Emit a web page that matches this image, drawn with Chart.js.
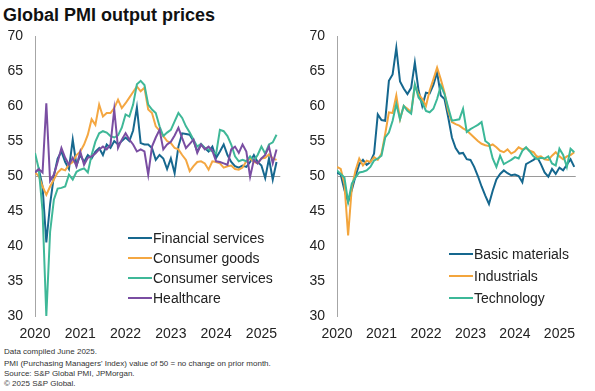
<!DOCTYPE html>
<html>
<head>
<meta charset="utf-8">
<script src="https://cdn.jsdelivr.net/npm/chart.js@4.4.1/dist/chart.umd.min.js"></script>
<style>
  html, body { margin:0; padding:0; background:#fff; }
  body { width:595px; height:391px; position:relative; overflow:hidden; font-family:'Liberation Sans', Arial, sans-serif; color:#222; }
  #title { position:absolute; left:3px; top:5px; font-size:18px; font-weight:bold; color:#111; white-space:nowrap; }
  .cv { position:absolute; }
  .leg { position:absolute; font-size:14px; color:#222; white-space:nowrap; }
  .leg .row { position:absolute; left:0; height:20px; display:flex; align-items:center; }
  .leg .ln { width:24px; height:2px; margin-right:1px; }
  .foot { position:absolute; left:4px; font-size:8px; color:#333; white-space:nowrap; }
</style>
</head>
<body>
<div id="title">Global PMI output prices</div>
<div class="cv" style="left:0px;top:0px;width:287px;height:341px;"><canvas id="c1"></canvas></div>
<div class="cv" style="left:300px;top:0px;width:285px;height:341px;"><canvas id="c2"></canvas></div>
<div class="leg" id="leg1" style="left:128px;top:0px;"></div>
<div class="leg" id="leg2" style="left:449px;top:0px;"></div>
<div class="foot" style="top:347px;">Data compiled June 2025.</div>
<div class="foot" style="top:358.5px;">PMI (Purchasing Managers' Index) value of 50 = no change on prior month.</div>
<div class="foot" style="top:368.5px;">Source: S&amp;P Global PMI, JPMorgan.</div>
<div class="foot" style="top:378.5px;">© 2025 S&amp;P Global.</div>
<script>
// Monthly data, Jan 2020 .. May 2025 (65 months)
const yearLabels = ["2020","2021","2022","2023","2024","2025"];

const financialServices = [50.5,51,48.5,40.5,46,50,52.5,53.5,52,51,55.2,51.5,
  53,52,53,52.5,53.5,54,53,54.5,54,55,54.5,55,
  55.5,55,56.5,59.8,54.7,54.5,54.5,54,52.3,53,52.5,51,
  52.5,50.4,54.2,56.1,56,55.9,55,53.5,54.5,54,53.5,54.2,
  52.6,53.5,54.5,53,52,51.4,51.2,51.5,51.3,52,53,52,
  51.5,49.7,52.5,49.5,52];
const consumerGoods = [50.5,50,48.5,47.3,48.5,49.5,50.5,51,50.8,51.6,52,53,
  53.5,54.5,55.9,58.1,57.3,60.2,58.5,59,59,59.7,60.9,59.7,
  60.4,61.2,62,62.8,62.1,62.6,59.5,59,57.1,56.5,55.7,55,
  54.7,54,53.8,53,52.3,50.7,51.4,52,52.1,51.8,50.9,52.1,
  52,51.8,51.2,51.4,51.5,51,50.9,51.2,52.1,52.5,52,51.8,
  52.5,52.6,53.1,52.5,52.3];
const consumerServices = [53.3,51,45,30,42,46.6,48.2,48.3,48.5,50.2,49.5,50.6,
  50.9,51.1,50.5,53,54.9,56.1,56.4,56.2,55.7,55.5,55.8,56.9,
  58.8,58.5,60.2,63.1,63.6,63,60.2,59.5,59,57.1,55.7,56.2,
  56.6,57.8,59,58.3,57.1,56.2,55.2,54.2,54.6,54,53.8,53.5,
  53.2,56.6,56.4,55.7,54.5,52.8,52.1,52.3,52.1,52.8,52.2,53,
  54.2,53.2,54.5,54.8,55.9];
const healthcare = [50.5,51,50.5,60.4,49.3,50.2,52,54,52.6,51.6,52.6,51.4,
  53.5,51.6,52.6,52.8,53.2,53.8,54.2,53.8,54.5,59.5,54,55.2,
  56.1,55.2,54.5,53.5,53.8,53.5,50.2,54.2,55.5,56.6,53.8,54.5,
  54.9,55.8,56.9,55.4,54,54.6,55.2,53.3,54.5,53.8,54.2,53.6,
  52.1,52,51.8,51.6,53.8,54.2,53.3,54.5,53.5,49.9,52.3,51.8,
  52.5,53,54.2,51.8,53.8];

const basicMaterials = [50.5,50.2,48,46.3,48,50,51.7,52.3,51.6,52,53.2,58.8,
  58,57.9,63.6,64.5,68.3,63.5,62.5,61.7,62.6,66.2,62.2,60,
  61.9,61.8,63,64.8,61.5,61,58.4,55.5,54,53.2,53.3,52.4,
  52.3,51.3,50,48.5,47.2,46,47.9,49.5,50.3,50.8,50.4,50.1,
  50.2,50,49.1,51.7,52,52.3,52.7,51.7,50.5,49.9,51,50.3,
  51.2,50.8,51.6,52.4,51.3];
const industrials = [51.3,51,48.9,41.5,48.4,50.8,52.5,51.5,52.2,52,52.7,52.3,
  53.2,56,59.1,59,61.5,58.1,60,59.6,59.1,62.9,61.7,61,
  60,62.2,63.8,65.5,63.8,61.9,59.3,57.7,57.4,57.2,56.8,56.5,
  56,55.5,55,54.6,54.4,54.3,54.5,54.1,53.6,53.4,53.8,53.2,
  53.5,54.1,53.8,54,53.6,53.4,52.7,52.8,52.4,52.3,52.9,53.4,
  52.8,52.4,52.8,53,53.4];
const technology = [50.8,50.3,49.8,46.3,48.9,49.8,50.5,50.6,50.8,51.3,52.2,52.5,
  52.9,55.5,56.2,57.9,60.3,58.1,60,59.3,58.9,63.1,61.2,60.5,
  59.3,59.1,59.6,61,62.9,61.7,59.8,57.9,58,58.1,59.6,56.3,
  56.7,57,57.3,57.7,55,54.6,52.5,51.3,52.9,51.7,52,52.3,
  52.7,52.5,53.6,54.1,53.5,52.8,52.4,52.6,52.5,52.8,51.8,51.5,
  53.9,53,51.3,53.9,53.4];

const leftNames = ["Financial services","Consumer goods","Consumer services","Healthcare"];
const leftSeries = [financialServices, consumerGoods, consumerServices, healthcare];
const leftColors = ["#17688f","#f4a742","#3fb898","#7a4ea2"];

const rightNames = ["Basic materials","Industrials","Technology"];
const rightSeries = [basicMaterials, industrials, technology];
const rightColors = ["#15678e","#f3a53c","#3cb898"];

const FONT = "'Liberation Sans', Arial, sans-serif";

function makeChart(id, names, series, colors, yWidth, xMax) {
  const datasets = series.map((arr, i) => ({
    label: names[i],
    data: arr.map((v, m) => ({x: m, y: v})),
    borderColor: colors[i],
    backgroundColor: colors[i],
    borderWidth: 2,
    pointRadius: 0,
    tension: 0,
    fill: false,
    order: series.length - i
  }));
  return new Chart(document.getElementById(id), {
    type: 'line',
    data: { datasets },
    options: {
      responsive: true,
      maintainAspectRatio: false,
      animation: false,
      events: [],
      layout: { padding: { top: 36, right: 0, bottom: 0, left: 0 } },
      plugins: { legend: { display: false }, tooltip: { enabled: false } },
      scales: {
        x: {
          type: 'linear',
          min: 0,
          max: xMax,
          grid: { display: false, drawTicks: false },
          border: { display: false },
          afterBuildTicks: (axis) => {
            axis.ticks = yearLabels.map((_, k) => ({ value: k * 12 }));
          },
          afterFit: (scale) => { scale.height = 25; },
          ticks: {
            autoSkip: false,
            maxRotation: 0,
            padding: 10,
            color: '#222',
            font: { family: FONT, size: 14 },
            callback: (v) => yearLabels[Math.round(v / 12)]
          }
        },
        y: {
          min: 30,
          max: 70,
          afterFit: (scale) => { scale.width = yWidth; },
          ticks: {
            stepSize: 5,
            padding: 12,
            color: '#222',
            font: { family: FONT, size: 14 }
          },
          border: { display: true, color: '#a6a6a6', width: 1 },
          grid: {
            drawTicks: false,
            lineWidth: 1,
            color: (ctx) => (ctx.tick && ctx.tick.value === 50) ? '#9a9a9a' : 'rgba(0,0,0,0)'
          }
        }
      }
    }
  });
}

makeChart('c1', leftNames, leftSeries, leftColors, 35, 65);
makeChart('c2', rightNames, rightSeries, rightColors, 37, 64.4);

function makeLegend(id, names, colors, top, step) {
  const el = document.getElementById(id);
  names.forEach((n, i) => {
    const r = document.createElement('div');
    r.className = 'row';
    r.style.top = (top + i * step - 10) + 'px';
    const ln = document.createElement('div');
    ln.className = 'ln';
    ln.style.background = colors[i];
    const t = document.createElement('span');
    t.textContent = n;
    r.appendChild(ln); r.appendChild(t);
    el.appendChild(r);
  });
}
makeLegend('leg1', leftNames, leftColors, 238, 20);
makeLegend('leg2', rightNames, rightColors, 254, 22);
</script>
</body>
</html>
